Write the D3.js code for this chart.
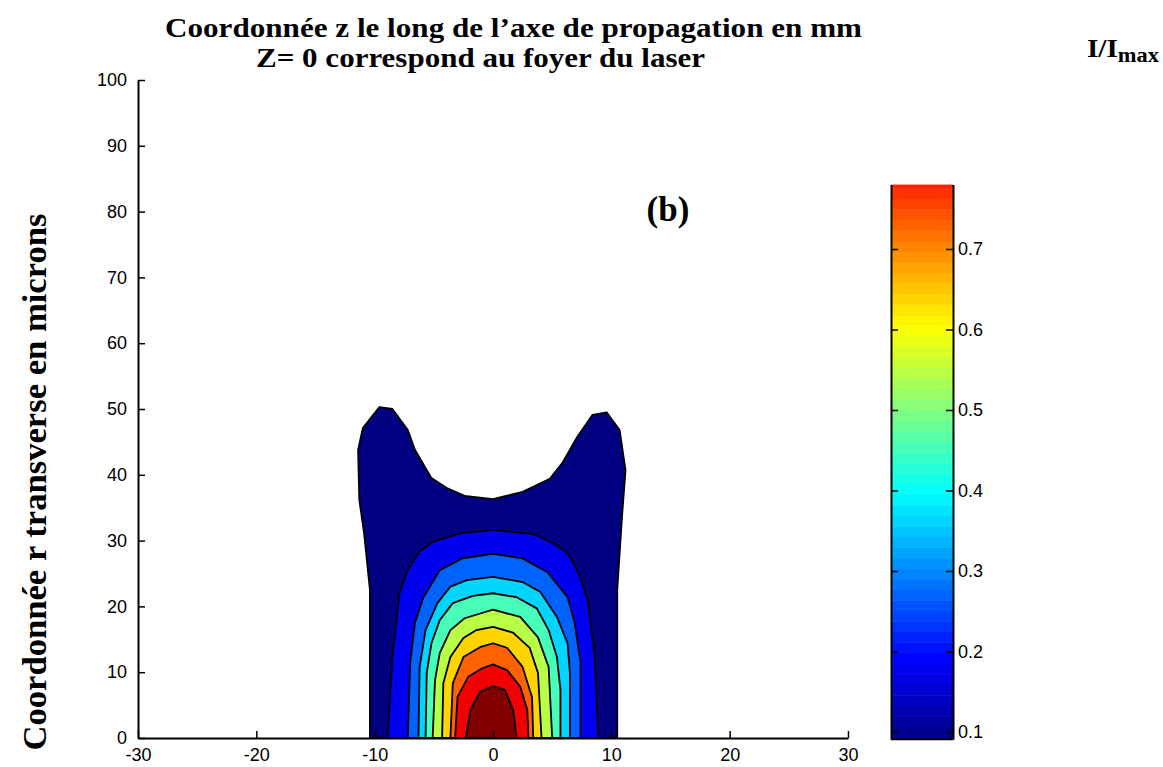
<!DOCTYPE html>
<html>
<head>
<meta charset="utf-8">
<script src="https://cdn.jsdelivr.net/npm/d3@7"></script>
<style>
body{margin:0;background:#fff;}
.tick text{font-family:"Liberation Sans",Arial,sans-serif;font-size:18px;fill:#000;}
.serif{font-family:"Liberation Serif","Times New Roman",serif;font-weight:bold;fill:#000;}
</style>
</head>
<body>
<div id="chart"></div>
<script>
// contour levels (I/Imax) and the boundary of each filled region, [z mm, r microns]
var levels = [0.08, 0.173, 0.267, 0.36, 0.453, 0.547, 0.64, 0.733, 0.827, 0.92];
var contour1 = [[-10.4,0],[-10.4,22.5],[-10.9,31.2],[-11.3,36.2],[-11.4,43.8],[-11.0,47.1],[-9.6,50.3],[-8.5,50.0],[-7.2,46.8],[-6.6,43.8],[-5.2,39.5],[-3.9,38.0],[-2.4,36.8],[0,36.3],[2.5,37.4],[4.8,39.4],[5.9,41.9],[7.1,45.7],[8.4,49.1],[9.6,49.5],[10.7,46.8],[11.2,40.7],[10.9,33.6],[10.5,22.5],[10.5,0]];
var contour2 = [[-8.9,0],[-8.5,12.3],[-7.9,22.0],[-7.2,25.5],[-6.2,28.3],[-5.1,29.8],[-2.8,31.1],[0,31.6],[3.4,31.0],[5.1,29.6],[6.3,28.1],[7.2,25.2],[8.0,21.0],[8.6,12.3],[8.9,0]];
var contour3 = [[-7.2,0],[-7.0,11.4],[-6.6,17.5],[-5.9,21.3],[-4.5,25.5],[-2.6,27.3],[0,28.0],[2.5,27.3],[4.6,25.2],[6.3,21.4],[6.9,17.5],[7.4,11.4],[7.4,0]];
var contour4 = [[-6.3,0],[-6.2,10.8],[-5.7,16.4],[-4.7,20.5],[-3.6,23.0],[-2.2,24.0],[0,24.5],[2.5,23.7],[4.0,22.2],[5.4,18.4],[6.3,14.4],[6.5,9.9],[6.5,0]];
var contour5 = [[-5.7,0],[-5.6,9.9],[-5.2,14.4],[-4.5,17.9],[-3.4,20.5],[-1.7,21.6],[0,22.0],[2.0,21.4],[3.7,19.7],[4.7,16.4],[5.4,12.3],[5.7,7.3],[5.7,0]];
var contour6 = [[-5.1,0],[-4.9,8.8],[-4.5,12.9],[-3.6,16.4],[-2.4,18.2],[0,19.5],[2.3,18.4],[3.8,15.3],[4.7,10.8],[5.0,0]];
var contour7 = [[-4.3,0],[-4.2,8.3],[-3.6,12.3],[-2.5,15.2],[-1.4,16.4],[0,16.9],[1.7,16.0],[3.1,13.7],[3.8,9.9],[4.1,0]];
var contour8 = [[-3.6,0],[-3.4,8.3],[-2.5,12.3],[-1.1,13.8],[0,14.4],[1.2,13.7],[2.5,10.8],[3.3,6.2],[3.4,0]];
var contour9 = [[-3.2,0],[-3.0,6.2],[-2.1,9.3],[-0.9,10.6],[0,11.2],[1.2,10.3],[2.3,7.8],[2.9,4.3],[3.0,0]];
var contour10 = [[-2.3,0],[-1.9,4.3],[-1.1,7.0],[0,7.9],[1.0,7.3],[1.7,4.3],[2.0,0]];
var contours = [contour1,contour2,contour3,contour4,contour5,contour6,contour7,contour8,contour9,contour10];

var xTicks = [-30,-20,-10,0,10,20,30];
var yTicks = [0,10,20,30,40,50,60,70,80,90,100];
var cbTicks = [0.1,0.2,0.3,0.4,0.5,0.6,0.7];
var cbRange = [0.091, 0.78];   // part of the colour map shown on the bar
var cmapRange = [0.08, 0.92];  // full colour map range

var W = 1163, H = 767;
var svg = d3.select("#chart").append("svg")
	.attr("width", W).attr("height", H);

var x = d3.scaleLinear().domain([-30,30]).range([138,848]);
var y = d3.scaleLinear().domain([0,100]).range([738,80]);

// matlab jet(64)
function jet(f){
	var k = Math.max(0, Math.min(63, Math.floor(f*64)));
	var t = k/63;
	var c = function(v){ return Math.round(255*Math.max(0,Math.min(1,v))); };
	return d3.rgb(c(Math.min(4*t-1.5,-4*t+4.5)), c(Math.min(4*t-0.5,-4*t+3.5)), c(Math.min(4*t+0.5,-4*t+2.5))).toString();
}
var colour = function(v){ return jet((v-cmapRange[0])/(cmapRange[1]-cmapRange[0])); };

var line = d3.line()
	.x(function(d){ return x(d[0]); })
	.y(function(d){ return y(d[1]); });

svg.append("g").selectAll("path")
	.data(contours)
	.enter()
	.append("path")
	.attr("d", function(d){ return line(d) + "Z"; })
	.attr("fill", function(d,i){ return colour(levels[i]); })
	.attr("stroke", "#000")
	.attr("stroke-width", 1.8)
	.attr("stroke-linejoin", "round");

// axes, ticks pointing inward
var plain = function(d){ return String(d); };
var gx = svg.append("g")
	.attr("transform", "translate(0,738)")
	.call(d3.axisBottom(x).tickValues(xTicks).tickFormat(plain).tickSize(-7).tickSizeOuter(0).tickPadding(10));
var gy = svg.append("g")
	.attr("transform", "translate(138,0)")
	.call(d3.axisLeft(y).tickValues(yTicks).tickFormat(plain).tickSize(-7).tickSizeOuter(0).tickPadding(11));
[gx,gy].forEach(function(g){
	g.select(".domain").attr("stroke","#000").attr("stroke-width",2);
	g.selectAll(".tick line").attr("stroke","#000").attr("stroke-width",1.5);
});

// colour bar
var cbX0 = 891, cbX1 = 953;
var cy = d3.scaleLinear().domain([0.1,0.7]).range([732,249]);
var nBands = 64, step = (cmapRange[1]-cmapRange[0])/nBands;
var bands = d3.range(nBands).map(function(i){
	return [cmapRange[0]+i*step, cmapRange[0]+(i+1)*step];
}).filter(function(b){ return b[1] > cbRange[0] && b[0] < cbRange[1]; });
svg.append("g").selectAll("rect")
	.data(bands)
	.enter()
	.append("rect")
	.attr("x", cbX0)
	.attr("width", cbX1-cbX0)
	.attr("y", function(b){ return cy(Math.min(b[1],cbRange[1])); })
	.attr("height", function(b){ return cy(Math.max(b[0],cbRange[0])) - cy(Math.min(b[1],cbRange[1])) + 0.5; })
	.attr("fill", function(b){ return colour((b[0]+b[1])/2); });

var cyFull = cy.copy().domain(cbRange).range([cy(cbRange[0]), cy(cbRange[1])]);
var cbR = svg.append("g")
	.attr("transform", "translate(" + cbX1 + ",0)")
	.call(d3.axisRight(cyFull).tickValues(cbTicks).tickFormat(d3.format(".1f")).tickSize(-7).tickSizeOuter(0).tickPadding(5));
var cbL = svg.append("g")
	.attr("transform", "translate(" + cbX0 + ",0)")
	.call(d3.axisLeft(cyFull).tickValues(cbTicks).tickFormat("").tickSize(-7).tickSizeOuter(0));
[cbR,cbL].forEach(function(g){
	g.select(".domain").attr("stroke","#000").attr("stroke-width",2);
	g.selectAll(".tick line").attr("stroke","#000").attr("stroke-width",1.5);
});
svg.append("line")
	.attr("x1", cbX0).attr("x2", cbX1)
	.attr("y1", cyFull(cbRange[0])).attr("y2", cyFull(cbRange[0]))
	.attr("stroke","#000").attr("stroke-width",2);

// texts
svg.append("text").attr("class","serif")
	.attr("x",165).attr("y",37)
	.attr("font-size",27)
	.attr("textLength",697).attr("lengthAdjust","spacingAndGlyphs")
	.text("Coordonnée z le long de l’axe de propagation en mm");
svg.append("text").attr("class","serif")
	.attr("x",256).attr("y",67)
	.attr("font-size",27)
	.attr("textLength",449).attr("lengthAdjust","spacingAndGlyphs")
	.text("Z= 0 correspond au foyer du laser");
svg.append("text").attr("class","serif")
	.attr("transform","translate(46,482) rotate(-90)")
	.attr("text-anchor","middle")
	.attr("font-size",33)
	.attr("textLength",537).attr("lengthAdjust","spacingAndGlyphs")
	.text("Coordonnée r transverse en microns");
svg.append("text").attr("class","serif")
	.attr("x",668).attr("y",221)
	.attr("text-anchor","middle")
	.attr("font-size",35)
	.text("(b)");
var lab = svg.append("text").attr("class","serif")
	.attr("x",1087).attr("y",57)
	.attr("font-size",26)
	.attr("textLength",72).attr("lengthAdjust","spacingAndGlyphs");
lab.append("tspan").text("I/I");
lab.append("tspan").attr("font-size",20).attr("dy",5).text("max");
</script>
</body>
</html>
